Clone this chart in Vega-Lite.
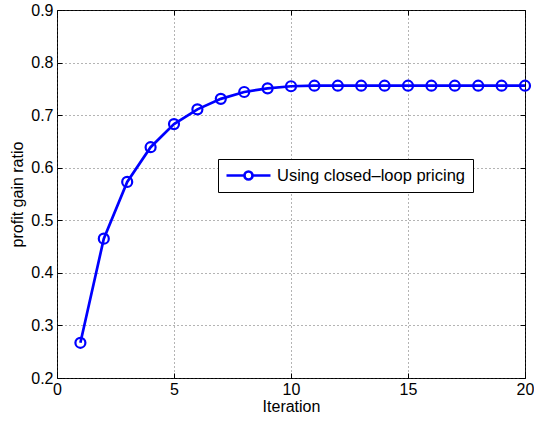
{
  "$schema": "https://vega.github.io/schema/vega-lite/v6.json",
  "autosize": {"type": "none"},
  "width": 468,
  "height": 368,
  "padding": {"left": 57, "top": 10, "right": 9, "bottom": 44},
  "background": "white",
  "config": {
    "view": {"stroke": "black", "strokeWidth": 1},
    "font": "Liberation Sans",
    "axis": {
      "labelFont": "Liberation Sans",
      "titleFont": "Liberation Sans",
      "labelFontSize": 16,
      "titleFontSize": 16,
      "titleFontWeight": "normal",
      "labelColor": "black",
      "titleColor": "black",
      "domain": false,
      "tickColor": "black",
      "tickSize": -5,
      "gridColor": "#444444",
      "gridDash": [1, 3],
      "gridOpacity": 0.8
    }
  },
  "data": {
    "values": [
      {"iteration": 1, "ratio": 0.267, "series": "Using closed\u2013loop pricing"},
      {"iteration": 2, "ratio": 0.465, "series": "Using closed\u2013loop pricing"},
      {"iteration": 3, "ratio": 0.573, "series": "Using closed\u2013loop pricing"},
      {"iteration": 4, "ratio": 0.639, "series": "Using closed\u2013loop pricing"},
      {"iteration": 5, "ratio": 0.683, "series": "Using closed\u2013loop pricing"},
      {"iteration": 6, "ratio": 0.711, "series": "Using closed\u2013loop pricing"},
      {"iteration": 7, "ratio": 0.731, "series": "Using closed\u2013loop pricing"},
      {"iteration": 8, "ratio": 0.744, "series": "Using closed\u2013loop pricing"},
      {"iteration": 9, "ratio": 0.751, "series": "Using closed\u2013loop pricing"},
      {"iteration": 10, "ratio": 0.755, "series": "Using closed\u2013loop pricing"},
      {"iteration": 11, "ratio": 0.756, "series": "Using closed\u2013loop pricing"},
      {"iteration": 12, "ratio": 0.756, "series": "Using closed\u2013loop pricing"},
      {"iteration": 13, "ratio": 0.756, "series": "Using closed\u2013loop pricing"},
      {"iteration": 14, "ratio": 0.756, "series": "Using closed\u2013loop pricing"},
      {"iteration": 15, "ratio": 0.756, "series": "Using closed\u2013loop pricing"},
      {"iteration": 16, "ratio": 0.756, "series": "Using closed\u2013loop pricing"},
      {"iteration": 17, "ratio": 0.756, "series": "Using closed\u2013loop pricing"},
      {"iteration": 18, "ratio": 0.756, "series": "Using closed\u2013loop pricing"},
      {"iteration": 19, "ratio": 0.756, "series": "Using closed\u2013loop pricing"},
      {"iteration": 20, "ratio": 0.756, "series": "Using closed\u2013loop pricing"}
    ]
  },
  "layer": [
    {
      "mark": {"type": "line", "strokeWidth": 2.7, "clip": false},
      "encoding": {
        "x": {
          "field": "iteration", "type": "quantitative",
          "scale": {"domain": [0, 20], "nice": false},
          "axis": {"title": "Iteration", "values": [0, 5, 10, 15, 20], "labelPadding": 8, "titlePadding": 1, "grid": true, "labelFlush": false}
        },
        "y": {
          "field": "ratio", "type": "quantitative",
          "scale": {"domain": [0.2, 0.9], "nice": false, "zero": false},
          "axis": {"title": "profit gain ratio", "values": [0.2, 0.3, 0.4, 0.5, 0.6, 0.7, 0.8, 0.9], "format": ".1f", "labelPadding": 9, "titlePadding": 5, "grid": true, "labelFlush": false}
        },
        "color": {
          "field": "series", "type": "nominal",
          "scale": {"range": ["#0000ff"]},
          "legend": {
            "title": null,
            "orient": "none",
            "legendX": 161,
            "legendY": 149,
            "direction": "vertical",
            "fillColor": "white",
            "strokeColor": "black",
            "cornerRadius": 0,
            "padding": 7,
            "labelFontSize": 16.5,
            "labelFont": "Liberation Sans",
            "labelColor": "black",
            "labelLimit": 400,
            "symbolType": "M-1,0H1.25 M2.25,0H4.5 M1.25,0A0.5,0.5 0 1,0 2.25,0A0.5,0.5 0 1,0 1.25,0",
            "symbolSize": 256,
            "symbolStrokeWidth": 2.7,
            "symbolFillColor": "transparent",
            "labelOffset": 33
          }
        }
      }
    },
    {
      "mark": {"type": "point", "shape": "circle", "filled": false, "size": 100, "strokeWidth": 2.2, "opacity": 1, "clip": false},
      "encoding": {
        "x": {"field": "iteration", "type": "quantitative", "axis": null},
        "y": {"field": "ratio", "type": "quantitative", "axis": null},
        "color": {"field": "series", "type": "nominal"}
      }
    },
    {
      "mark": {"type": "point", "opacity": 0},
      "encoding": {
        "x": {"field": "iteration", "type": "quantitative", "axis": {"orient": "top", "values": [0, 5, 10, 15, 20], "labels": false, "title": null, "grid": false}},
        "y": {"field": "ratio", "type": "quantitative", "axis": {"orient": "right", "values": [0.2, 0.3, 0.4, 0.5, 0.6, 0.7, 0.8, 0.9], "labels": false, "title": null, "grid": false}}
      }
    }
  ],
  "resolve": {"axis": {"x": "independent", "y": "independent"}}
}
